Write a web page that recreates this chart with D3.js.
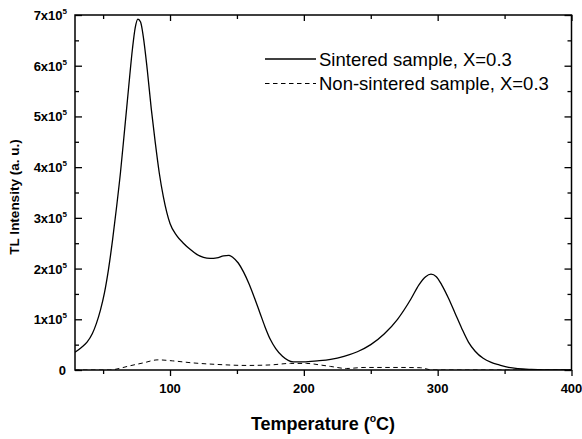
<!DOCTYPE html>
<html><head><meta charset="utf-8">
<script src="https://cdn.jsdelivr.net/npm/d3@7"></script>
<style>body{margin:0;background:#fff}svg{display:block}text{font-family:Arial,"Liberation Sans",sans-serif}</style>
</head><body>
<svg id="c" width="582" height="439"></svg>
<script>
const sinteredT = [29,34,38,42,45,48,51,54,57,60,63,66,69,72,74,76,78,80,83,86,89,92,95,100,105,110,115,120,125,130,135,140,144,147,151,155,159,163,167,171,175,179,184,192,200,210,220,230,240,250,260,270,280,286,291,295,299,303,308,313,318,323,328,334,340,346,353,360,370,380,400];
const sinteredV = [0.35,0.45,0.55,0.72,0.92,1.18,1.52,1.98,2.55,3.2,3.9,4.72,5.55,6.35,6.75,6.92,6.86,6.58,5.92,5.15,4.48,3.88,3.42,2.89,2.65,2.5,2.38,2.28,2.22,2.2,2.21,2.25,2.26,2.22,2.11,1.93,1.70,1.43,1.14,0.85,0.60,0.42,0.27,0.16,0.16,0.18,0.21,0.27,0.36,0.5,0.71,1.0,1.4,1.68,1.84,1.89,1.84,1.68,1.42,1.12,0.82,0.55,0.37,0.23,0.15,0.1,0.05,0.025,0.01,0.003,0];
const nonSintT = [29,55,62,68,80,91,102,117,135,157,175,190,202,212,220,232,245,272,287,296,400];
const nonSintV = [0,0,0.03,0.07,0.14,0.2,0.18,0.14,0.11,0.09,0.1,0.13,0.13,0.1,0.07,0.03,0.05,0.05,0.045,0,0];
const xMajor = [100,200,300,400];
const xMinor = [50,150,250,350];
const yMajor = [0,1,2,3,4,5,6,7];
const yMinor = [0.5,1.5,2.5,3.5,4.5,5.5,6.5];
const seriesNames = ["Sintered sample, X=0.3","Non-sintered sample, X=0.3"];

const svg = d3.select("#c");
const L=75,R=571.5,T=15,B=370;
const x = d3.scaleLinear().domain([29,400]).range([L,R]);
const y = d3.scaleLinear().domain([0,7]).range([B,T]);

const line = d3.line().x(d=>x(d[0])).y(d=>y(d[1])).curve(d3.curveMonotoneX);
svg.append("clipPath").attr("id","clp").append("rect").attr("x",L).attr("y",T).attr("width",R-L).attr("height",B-T);
const g = svg.append("g").attr("clip-path","url(#clp)");
g.append("path").datum(sinteredT.map((t,i)=>[t,sinteredV[i]])).attr("d",line)
 .attr("fill","none").attr("stroke","#000").attr("stroke-width",1.3);
g.append("path").datum(nonSintT.map((t,i)=>[t,nonSintV[i]])).attr("d",line)
 .attr("fill","none").attr("stroke","#000").attr("stroke-width",1).attr("stroke-dasharray","4.5,3.5");

function styleAxis(sel){sel.select(".domain").remove();sel.selectAll("line").attr("stroke","#000").attr("stroke-width",1.3);sel.selectAll("text").remove();}
svg.append("g").attr("transform",`translate(0,${B})`).call(d3.axisBottom(x).tickValues(xMajor).tickSize(6)).call(styleAxis);
svg.append("g").attr("transform",`translate(0,${B})`).call(d3.axisBottom(x).tickValues(xMinor).tickSize(4)).call(styleAxis);
svg.append("g").attr("transform",`translate(0,${T})`).call(d3.axisTop(x).tickValues(xMajor).tickSize(-6)).call(styleAxis);
svg.append("g").attr("transform",`translate(0,${T})`).call(d3.axisTop(x).tickValues(xMinor).tickSize(-4)).call(styleAxis);
svg.append("g").attr("transform",`translate(${L},0)`).call(d3.axisLeft(y).tickValues(yMajor).tickSize(-7)).call(styleAxis);
svg.append("g").attr("transform",`translate(${L},0)`).call(d3.axisLeft(y).tickValues(yMinor).tickSize(-4)).call(styleAxis);
svg.append("g").attr("transform",`translate(${R},0)`).call(d3.axisRight(y).tickValues(yMajor).tickSize(-7)).call(styleAxis);
svg.append("g").attr("transform",`translate(${R},0)`).call(d3.axisRight(y).tickValues(yMinor).tickSize(-4)).call(styleAxis);

svg.append("rect").attr("x",L).attr("y",T).attr("width",R-L).attr("height",B-T).attr("fill","none").attr("stroke","#000").attr("stroke-width",1.5);

svg.selectAll(".xl").data(xMajor).enter().append("text").attr("x",d=>x(d)).attr("y",393)
 .attr("text-anchor","middle").attr("font-size",13).attr("font-weight","bold").text(d=>d);
const yl = svg.selectAll(".yl").data(yMajor).enter().append("text").attr("y",d=>y(d)+5)
 .attr("text-anchor","end").attr("font-size",13).attr("font-weight","bold");
yl.each(function(d){
  const s=d3.select(this);
  if(d===0){s.attr("x",66).text("0");}
  else{s.attr("x",67);s.append("tspan").text(d+"x10");s.append("tspan").attr("font-size",8).attr("dy",-6).text("5");}
});

svg.append("text").attr("transform","translate(19,197) rotate(-90)").attr("text-anchor","middle")
 .attr("font-size",13.5).attr("font-weight","bold").text("TL Intensity (a. u.)");
const xt = svg.append("text").attr("x",323).attr("y",430).attr("text-anchor","middle").attr("font-size",18).attr("font-weight","bold");
xt.append("tspan").text("Temperature (");
xt.append("tspan").attr("font-size",10.5).attr("dy",-8).text("o");
xt.append("tspan").attr("dy",8).text("C)");

const leg = svg.append("g");
[0,1].forEach(i=>{
  const ly = 59 + i*24.5;
  leg.append("line").attr("x1",265).attr("x2",316).attr("y1",ly).attr("y2",ly).attr("stroke","#000")
   .attr("stroke-width",i?1:1.3).attr("stroke-dasharray",i?"4.5,3.5":null);
  leg.append("text").attr("x",319).attr("y",ly+6.5).attr("font-size",18.5).text(seriesNames[i]);
});
</script>
</body></html>
